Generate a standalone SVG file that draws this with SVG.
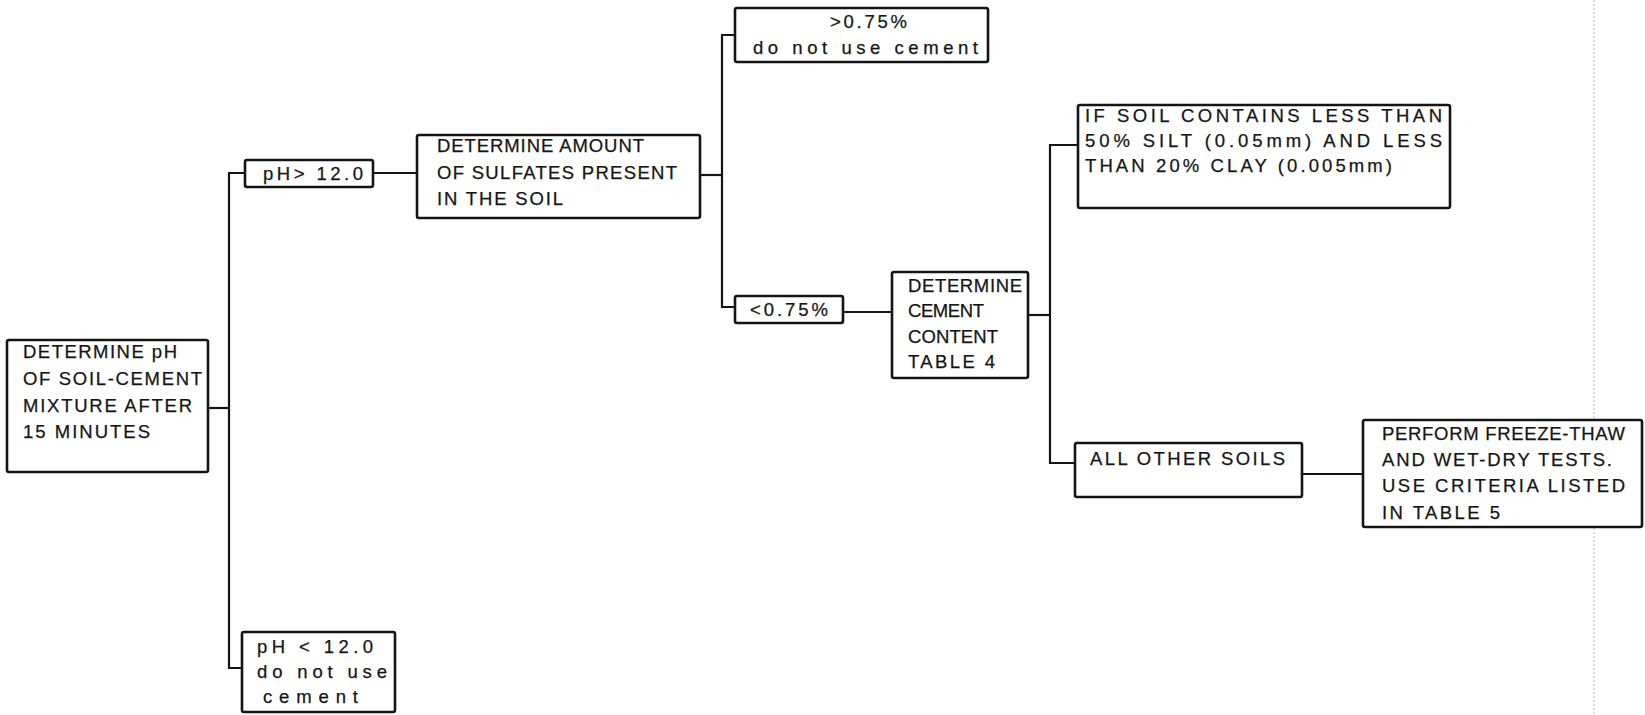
<svg xmlns="http://www.w3.org/2000/svg" width="1645" height="715" viewBox="0 0 1645 715">
<style>
.box{fill:#fff;stroke:#141414;stroke-width:2.6}
.t{font-family:"Liberation Sans",Arial,sans-serif;font-size:18.5px;fill:#151515;stroke:#151515;stroke-width:0.25}
.c{fill:none;stroke:#141414;stroke-width:2.2}
.edge{fill:none;stroke:#c4c4c4;stroke-width:1.2;stroke-dasharray:2 2}
</style>
<rect width="1645" height="715" fill="#fff"/>
<g id="scan-edge"><path class="edge" d="M1594 0V715"/></g>
<g id="connectors">
<path class="c" d="M208 408H229"/>
<path class="c" d="M245 173H229V668H242"/>
<path class="c" d="M373 173H417"/>
<path class="c" d="M700 175H722"/>
<path class="c" d="M735 35H722V307H735"/>
<path class="c" d="M843 312H892"/>
<path class="c" d="M1028 315H1050"/>
<path class="c" d="M1078 145H1050V463H1075"/>
<path class="c" d="M1302 474H1363"/>
</g>
<g id="n-ph">
<rect class="box" x="7" y="340" width="201" height="132" rx="2"/>
<text class="t" x="23" y="358" textLength="154" lengthAdjust="spacing">DETERMINE pH</text>
<text class="t" x="23" y="385" textLength="179" lengthAdjust="spacing">OF SOIL-CEMENT</text>
<text class="t" x="23" y="412" textLength="169" lengthAdjust="spacing">MIXTURE AFTER</text>
<text class="t" x="23" y="438" textLength="127" lengthAdjust="spacing">15 MINUTES</text>
</g>
<g id="n-ph-gt">
<rect class="box" x="245" y="160" width="128" height="27" rx="2"/>
<text class="t" x="263" y="180" textLength="100" lengthAdjust="spacing">pH&gt; 12.0</text>
</g>
<g id="n-ph-lt">
<rect class="box" x="242" y="632" width="153" height="80" rx="2"/>
<text class="t" x="257" y="653" textLength="116" lengthAdjust="spacing">pH &lt; 12.0</text>
<text class="t" x="257" y="678" textLength="130" lengthAdjust="spacing">do not use</text>
<text class="t" x="263" y="703" textLength="95" lengthAdjust="spacing">cement</text>
</g>
<g id="n-sulfates">
<rect class="box" x="417" y="135" width="283" height="83" rx="2"/>
<text class="t" x="437" y="152" textLength="207" lengthAdjust="spacing">DETERMINE AMOUNT</text>
<text class="t" x="437" y="179" textLength="240" lengthAdjust="spacing">OF SULFATES PRESENT</text>
<text class="t" x="437" y="205" textLength="126" lengthAdjust="spacing">IN THE SOIL</text>
</g>
<g id="n-gt075">
<rect class="box" x="735" y="8" width="253" height="54" rx="2"/>
<text class="t" x="830" y="28" textLength="77" lengthAdjust="spacing">&gt;0.75%</text>
<text class="t" x="753" y="54" textLength="225" lengthAdjust="spacing">do not use cement</text>
</g>
<g id="n-lt075">
<rect class="box" x="735" y="296" width="108" height="27" rx="2"/>
<text class="t" x="750" y="316" textLength="78" lengthAdjust="spacing">&lt;0.75%</text>
</g>
<g id="n-cement">
<rect class="box" x="892" y="272" width="136" height="106" rx="2"/>
<text class="t" x="908" y="292" textLength="114" lengthAdjust="spacing">DETERMINE</text>
<text class="t" x="908" y="317" textLength="76" lengthAdjust="spacing">CEMENT</text>
<text class="t" x="908" y="343" textLength="90" lengthAdjust="spacing">CONTENT</text>
<text class="t" x="908" y="368" textLength="87" lengthAdjust="spacing">TABLE 4</text>
</g>
<g id="n-ifsoil">
<rect class="box" x="1078" y="105" width="372" height="103" rx="2"/>
<text class="t" x="1085" y="122" textLength="357" lengthAdjust="spacing">IF SOIL CONTAINS LESS THAN</text>
<text class="t" x="1085" y="147" textLength="357" lengthAdjust="spacing">50% SILT (0.05mm) AND LESS</text>
<text class="t" x="1085" y="172" textLength="307" lengthAdjust="spacing">THAN 20% CLAY (0.005mm)</text>
</g>
<g id="n-other">
<rect class="box" x="1075" y="443" width="227" height="54" rx="2"/>
<text class="t" x="1090" y="465" textLength="195" lengthAdjust="spacing">ALL OTHER SOILS</text>
</g>
<g id="n-perform">
<rect class="box" x="1363" y="420" width="279" height="107" rx="2"/>
<text class="t" x="1382" y="440" textLength="243" lengthAdjust="spacing">PERFORM FREEZE-THAW</text>
<text class="t" x="1382" y="466" textLength="230" lengthAdjust="spacing">AND WET-DRY TESTS.</text>
<text class="t" x="1382" y="492" textLength="243" lengthAdjust="spacing">USE CRITERIA LISTED</text>
<text class="t" x="1382" y="519" textLength="118" lengthAdjust="spacing">IN TABLE 5</text>
</g>
</svg>
